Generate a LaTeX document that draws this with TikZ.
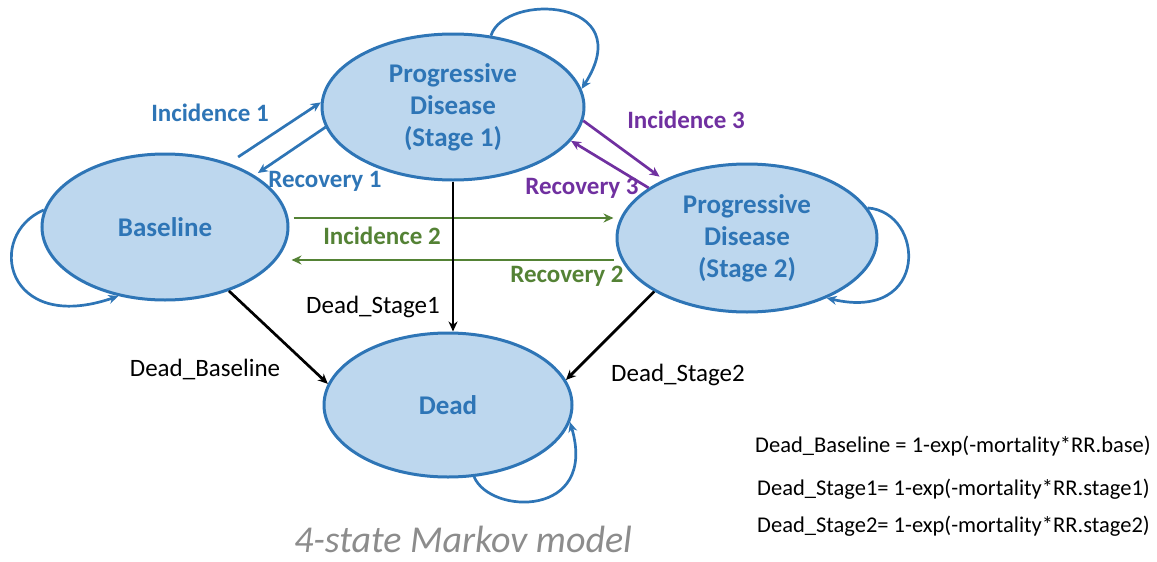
\documentclass[tikz,border=0pt]{standalone}
\usepackage{fontspec}
\setmainfont{Carlito}
\usetikzlibrary{shapes.geometric,arrows.meta}
\definecolor{stateblue}{HTML}{2E75B6}
\definecolor{statefill}{HTML}{BDD7EE}
\definecolor{incgreen}{HTML}{548235}
\definecolor{incpurple}{HTML}{7030A0}
\definecolor{titlegray}{HTML}{8C8C8C}
\begin{document}
\begin{tikzpicture}[x=1pt,y=-1pt,
  state/.style={ellipse, draw=stateblue, fill=statefill, line width=3pt,
    inner sep=0pt, text=stateblue, align=center,
    font=\fontsize{27}{32}\selectfont\bfseries},
  flow/.style={-{Stealth[length=10pt,width=9pt]}, line width=2.7pt},
  blueflow/.style={flow, draw=stateblue},
  greenflow/.style={flow, draw=incgreen},
  purpleflow/.style={flow, draw=incpurple},
  deadflow/.style={flow, draw=black},
  ratelbl/.style={inner sep=0pt, font=\fontsize{25}{30}\selectfont\bfseries},
  deadlbl/.style={inner sep=0pt, font=\fontsize{25}{29}\selectfont},
  formula/.style={inner sep=0pt, anchor=west, font=\fontsize{22.5}{26}\selectfont}]

\useasboundingbox (0,0) rectangle (1157,562);

% states
\node[state, minimum width=246pt, minimum height=146pt] (base) at (165,227) {Baseline};
\node[state, minimum width=262pt, minimum height=146pt] (s1) at (453,107) {Progressive\\Disease\\(Stage 1)};
\node[state, minimum width=260pt, minimum height=148pt] (s2) at (747,238) {Progressive\\Disease\\(Stage 2)};
\node[state, minimum width=248pt, minimum height=144pt] (dead) at (448,405) {Dead};

% self transitions
\draw[blueflow] (s1.62) .. controls (505,-8) and (640,-2) .. (s1.8);
\draw[blueflow] (base.172) .. controls (-15,235) and (5,335) .. (base.236);
\draw[blueflow] (s2.14) .. controls (925,212) and (930,322) .. (s2.-37);
\draw[blueflow] (dead.-70) .. controls (490,515) and (598,518) .. (dead.-8);

% baseline <-> stage 1
\draw[blueflow, shorten <=11pt] (base.45) -- (s1.178);
\draw[blueflow, shorten >=4pt] (s1.189) -- (base.30);
\node[ratelbl, text=stateblue] (inc1) at (210,113) {Incidence 1};
\node[ratelbl, text=stateblue] (rec1) at (325,181) {Recovery 1};

% stage 1 <-> stage 2
\draw[purpleflow, shorten >=5pt] (s1.-6) -- (s2.145);
\draw[purpleflow] (s2.153) -- (s1.-16);
\node[ratelbl, text=incpurple] (inc3) at (686,120) {Incidence 3};
\node[ratelbl, text=incpurple] (rec3) at (582,188) {Recovery 3};

% baseline <-> stage 2
\draw[greenflow] ([shift={(4,-9)}]base.east) -- ([shift={(-2,-20)}]s2.west);
\draw[greenflow] ([shift={(-2,22)}]s2.west) -- ([shift={(2,33)}]base.east);
\node[ratelbl, text=incgreen] (inc2) at (382,236) {Incidence 2};
\node[ratelbl, text=incgreen] (rec2) at (567,276) {Recovery 2};

% transitions to death
\draw[deadflow] (s1.south) -- (s1.south |- dead.north);
\draw[deadflow] (base.-45) -- (dead.170);
\draw[deadflow] (s2.210) -- (dead.12);
\node[deadlbl] (ds1) at (373,307) {Dead\_Stage1};
\node[deadlbl] (dbl) at (205,369) {Dead\_Baseline};
\node[deadlbl] (ds2) at (678,375) {Dead\_Stage2};

% mortality formulas
\node[formula] (f1) at (755,446) {Dead\_Baseline = 1-exp(-mortality*RR.base)};
\node[formula] (f2) at (757,489) {Dead\_Stage1= 1-exp(-mortality*RR.stage1)};
\node[formula] (f3) at (757,526) {Dead\_Stage2= 1-exp(-mortality*RR.stage2)};

% caption
\node[inner sep=0pt, text=titlegray, font=\fontsize{38}{42}\selectfont\itshape] (title) at (463,539) {4-state Markov model};
\end{tikzpicture}
\end{document}
